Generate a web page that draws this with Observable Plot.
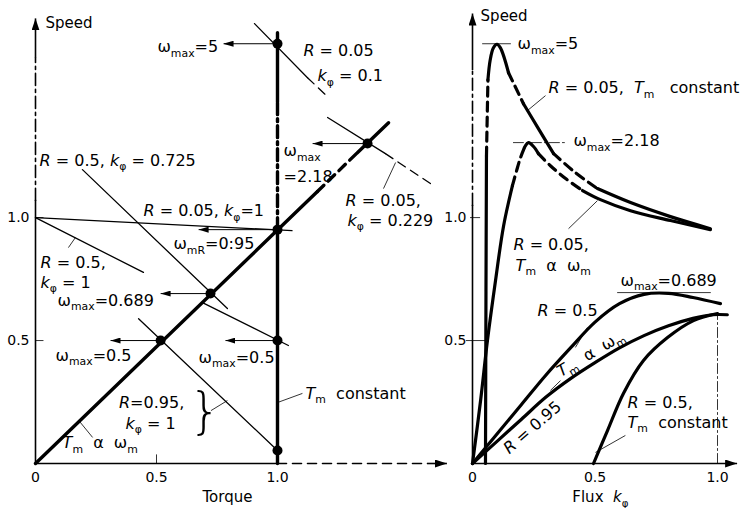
<!DOCTYPE html>
<html><head><meta charset="utf-8">
<script src="https://cdn.jsdelivr.net/npm/d3@7"></script>
<script src="https://cdn.jsdelivr.net/npm/@observablehq/plot@0.6"></script>
<style>
body{margin:0;background:#fff;}
#wrap{position:relative;width:748px;height:508px;overflow:hidden;}
#wrap svg{position:absolute;top:0;background:transparent;}
#wrap text{white-space:pre;}
</style></head><body><div id="wrap"></div>
<script>
// ---------------- DATA ----------------
const torqueTickValues = [0, 0.5, 1.0];
const fluxTickValues = [0, 0.5, 1.0];
const speedTickValues = [0.5, 1.0];

// Left panel (torque, speed); each curve is a list of pieces
const leftSpeedAxis = [[[0,0],[0,1.07]], [[0,1.07],[0,1.65]]];
const leftSpeedArrow = [[0,1.65],[0,1.81]];
const leftTorqueAxis = [[[0,0],[1,0]], [[1,0],[1.62,0]]];
const leftTorqueArrow = [[1.62,0],[1.70,0]];
const tmConstant = [[[1,0],[1,0.951]], [[1,0.951],[1,1.47]], [[1,1.47],[1,1.752]]];
const tmPropOmega = [[[0,0],[1.165,1.106]], [[1.165,1.106],[1.33,1.264]], [[1.33,1.264],[1.459,1.386]]];
const lineR005k01 = [[[0.905,1.789],[1.124,1.569]], [[1.124,1.569],[1.211,1.488]]];
const lineR005k0229 = [[[1.207,1.407],[1.446,1.26]], [[1.446,1.26],[1.645,1.13]]];
const lineR005k1 = [[[0,1],[1.06,0.947]]];
const lineR05k1 = [[[0,1],[0.446,0.777]], [[0.69,0.654],[1.045,0.48]]];
const lineR05k0725 = [[[0.194,1.195],[0.793,0.63]]];
const lineR095k1 = [[[0.426,0.589],[1.0,0.053]]];
const operatingPoints = [[1.0,1.707],[1.372,1.301],[1.0,0.951],[0.723,0.691],[0.517,0.5],[1.0,0.5],[1.0,0.053]];
const omegaArrowTips = [0.777, 1.145, 0.674, 0.517, 0.31, 0.785];
const leftLeaders = [
  [[1.0,0.248],[1.103,0.285]],
  [[0.725,0.215],[0.793,0.256]],
  [[0.182,0.171],[0.236,0.106]],
  [[0.136,0.878],[0.165,0.919]],
  [[1.488,1.224],[1.438,1.118]]
];
const leftLabels = [
  [1.107,1.679,"$R$ = 0.05"],
  [1.165,1.577,"$k$_{φ} = 0.1"],
  [0.504,1.695,"ω_{max}=5"],
  [1.025,1.27,"ω_{max}"],
  [1.025,1.165,"=2.18"],
  [1.281,1.069,"$R$ = 0.05,"],
  [1.289,0.988,"$k$_{φ} = 0.229"],
  [0.017,1.232,"$R$ = 0.5, $k$_{φ} = 0.725"],
  [0.446,1.028,"$R$ = 0.05, $k$_{φ}=1"],
  [0.57,0.894,"ω_{mR}=0:95"],
  [0.021,0.817,"$R$ = 0.5,"],
  [0.021,0.736,"$k$_{φ} = 1"],
  [0.091,0.663,"ω_{max}=0.689"],
  [0.083,0.439,"ω_{max}=0.5"],
  [0.674,0.431,"ω_{max}=0.5"],
  [1.116,0.285,"$T$_{m}  constant"],
  [0.345,0.248,"$R$=0.95,"],
  [0.372,0.163,"$k$_{φ} = 1"],
  [0.112,0.085,"$T$_{m}  α  ω_{m}"]
];
const leftBrace = [[0.70,0.211,"}"]];
const leftTitles = [[0.041,1.789,"Speed"],[0.793,-0.138,"Torque"]];

// Right panel (flux, speed)
const rightSpeedAxis = [[[0,0],[0,1.05]], [[0,1.05],[0,1.6]]];
const rightSpeedArrow = [[0,1.6],[0,1.83]];
const rightFluxArrow = [[0,0],[1.08,0]];
const r005TmConst = [
  [[0.053,0],[0.055,0.7],[0.057,1.25]],
  [[0.057,1.25],[0.063,1.56]],
  [[0.063,1.56],[0.072,1.64],[0.085,1.69],[0.1,1.705],[0.114,1.69],[0.147,1.589]],
  [[0.147,1.589],[0.208,1.463]],
  [[0.208,1.463],[0.269,1.362],[0.331,1.26]],
  [[0.331,1.26],[0.42,1.183],[0.51,1.118]],
  [[0.51,1.118],[0.645,1.061],[0.808,1.004],[0.971,0.955]]
];
const r005TmProp = [
  [[0,0],[0.033,0.256],[0.061,0.5],[0.094,0.744],[0.127,0.967],[0.163,1.13]],
  [[0.163,1.13],[0.18,1.191],[0.196,1.244],[0.212,1.285]],
  [[0.212,1.285],[0.229,1.305],[0.249,1.289],[0.269,1.26]],
  [[0.269,1.26],[0.318,1.211],[0.38,1.159],[0.449,1.11]],
  [[0.449,1.11],[0.522,1.073],[0.645,1.028],[0.808,0.988],[0.971,0.951]]
];
const r05TmProp = [[[0,0],[0.1,0.12],[0.2,0.24],[0.3,0.36],[0.4,0.47],[0.5,0.575],[0.6,0.65],[0.7,0.688],[0.8,0.692],[0.9,0.675],[1.012,0.65]]];
const r095TmProp = [[[0,0],[0.1,0.09],[0.2,0.18],[0.3,0.27],[0.4,0.345],[0.5,0.41],[0.6,0.47],[0.7,0.52],[0.8,0.56],[0.9,0.59],[0.98,0.605],[1.04,0.605]]];
const r05TmConst = [[[0.494,0],[0.551,0.134],[0.616,0.285],[0.698,0.419],[0.796,0.512],[0.902,0.581],[1.0,0.61]]];
const fluxOneDrop = [[[1.0,0],[1.0,0.61]]];
const omegaMaxMarks = [[[0.041,1.707],[0.155,1.707]], [[0.167,1.305],[0.38,1.305]], [[0.592,0.695],[0.971,0.695]]];
const rightLeaders = [
  [[0.298,1.496],[0.224,1.435]],
  [[0.510,1.069],[0.392,0.955]],
  [[0.420,0.472],[0.469,0.553]],
  [[0.318,0.297],[0.359,0.337]],
  [[0.624,0.114],[0.502,0.045]]
];
const rightLabels = [
  [0.184,1.707,"ω_{max}=5"],
  [0.31,1.528,"$R$ = 0.05,  $T$_{m}   constant"],
  [0.412,1.313,"ω_{max}=2.18"],
  [0.167,0.89,"$R$ = 0.05,"],
  [0.176,0.805,"$T$_{m}  α  ω_{m}"],
  [0.604,0.744,"ω_{max}=0.689"],
  [0.265,0.622,"$R$ = 0.5"],
  [0.633,0.248,"$R$ = 0.5,"],
  [0.633,0.167,"$T$_{m}  constant"]
];
const rightRotated = [[0.482,0.447,-31,"$T$_{m}  α  ω_{m}"],[0.245,0.146,-41,"$R$ = 0.95"]];
const rightTitles = [[0.033,1.821,"Speed"],[0.522,-0.138,"Flux  $k$_{φ}"]];

// ---------------- RENDER ----------------
const FONT = "DejaVu Sans";
const DASH = {solid: undefined, dash: "9,6", dashdot: "12,4,3,4", thin: "10,3,2,3"};
const X = d => d[0], Y = d => d[1];
function pieces(list, pattern, width, curve = "linear") {
  return list.map((p, i) => Plot.line(p, {x: X, y: Y, stroke: "black", strokeWidth: width,
    strokeDasharray: DASH[pattern[i % pattern.length]], curve}));
}
function links(list, opts) {
  return Plot.link(list, {x1: d => d[0][0], y1: d => d[0][1], x2: d => d[1][0], y2: d => d[1][1], ...opts});
}
function labels(list, opts) {
  return Plot.text(list, {x: X, y: Y, text: d => d[2], textAnchor: "start", fontSize: 16, fill: "black", ...opts});
}
const fmt = d => d === 0 ? "0" : d.toFixed(1);

function richify(svg) {
  const ns = "http://www.w3.org/2000/svg";
  svg.querySelectorAll("text").forEach(t => {
    const s = t.textContent;
    if (!/[_$]/.test(s)) return;
    const g = t.closest("[font-size]");
    const fs = g ? parseFloat(g.getAttribute("font-size")) : 16;
    t.textContent = "";
    const re = /\$([^$]*)\$|_\{([^}]*)\}|([^$_]+)/g;
    let m, shifted = false;
    while ((m = re.exec(s))) {
      const ts = document.createElementNS(ns, "tspan");
      if (m[2] !== undefined) {
        ts.textContent = m[2];
        ts.setAttribute("font-size", fs * 0.68);
        if (!shifted) { ts.setAttribute("dy", fs * 0.3); shifted = true; }
      } else {
        ts.textContent = m[1] !== undefined ? m[1] : m[3];
        if (m[1] !== undefined) ts.setAttribute("font-style", "italic");
        if (shifted) { ts.setAttribute("dy", -fs * 0.3); shifted = false; }
      }
      t.appendChild(ts);
    }
  });
}
function arrowheads(svg, key, id, len, hw) {
  const ns = "http://www.w3.org/2000/svg";
  let defs = svg.querySelector("defs");
  if (!defs) { defs = document.createElementNS(ns, "defs"); svg.insertBefore(defs, svg.firstChild); }
  const mk = document.createElementNS(ns, "marker");
  mk.setAttribute("id", id);
  mk.setAttribute("viewBox", `0 0 ${len} ${2*hw}`);
  mk.setAttribute("refX", len); mk.setAttribute("refY", hw);
  mk.setAttribute("markerWidth", len); mk.setAttribute("markerHeight", 2*hw);
  mk.setAttribute("orient", "auto"); mk.setAttribute("markerUnits", "userSpaceOnUse");
  const p = document.createElementNS(ns, "path");
  p.setAttribute("d", `M0,0L${len},${hw}L0,${2*hw}Z`); p.setAttribute("fill", "black");
  mk.appendChild(p); defs.appendChild(mk);
  svg.querySelectorAll(`g[stroke="${key}"] path`).forEach(e => e.setAttribute("marker-end", `url(#${id})`));
}

const common = {height: 508, marginTop: 13, marginBottom: 45,
  style: {fontFamily: FONT, background: "transparent", overflow: "visible", color: "black"}};
const tickStyle = {tickSize: 0, tickFormat: fmt, fontSize: 14, label: null, fill: "black"};

const left = Plot.plot({
  ...common, width: 460, marginLeft: 35, marginRight: 1.5,
  x: {domain: [0, 1.75], axis: null}, y: {domain: [0, 1.83], axis: null},
  marks: [
    ...pieces(leftSpeedAxis, ["solid", "dashdot"], 1.6),
    ...pieces(leftTorqueAxis, ["solid", "dash"], 1.6),
    links([leftSpeedArrow, leftTorqueArrow], {stroke: "#020202", strokeWidth: 1.6}),
    Plot.ruleX([0.5], {y1: 0, y2: 0.035, stroke: "black", strokeWidth: 0.8}),
    Plot.ruleY(speedTickValues, {x1: 0, x2: 0.035, stroke: "black", strokeWidth: 0.8}),
    Plot.axisX({ticks: torqueTickValues, tickPadding: 9, ...tickStyle}),
    Plot.axisY({ticks: speedTickValues, tickPadding: 6, ...tickStyle}),
    ...pieces(tmConstant, ["solid", "dashdot", "solid"], 3.4),
    ...pieces(tmPropOmega, ["solid", "dash", "solid"], 3.4),
    ...pieces(lineR005k01, ["solid", "dash"], 1.3),
    ...pieces(lineR005k0229, ["solid", "dash"], 1.3),
    ...pieces(lineR005k1, ["solid"], 1.3),
    ...pieces(lineR05k1, ["solid"], 1.3),
    ...pieces(lineR05k0725, ["solid"], 1.3),
    ...pieces(lineR095k1, ["solid"], 1.3),
    links(omegaArrowTips.map((t, i) => [operatingPoints[i], [t, operatingPoints[i][1]]]), {stroke: "#010101", strokeWidth: 1}),
    links(leftLeaders, {stroke: "black", strokeWidth: 0.8}),
    Plot.dot(operatingPoints, {x: X, y: Y, r: 5, fill: "black"}),
    labels(leftLabels),
    labels(leftBrace, {textAnchor: "middle", fontSize: 50, fontWeight: 200}),
    labels(leftTitles.slice(0, 1), {fontSize: 15}),
    labels(leftTitles.slice(1), {textAnchor: "middle", fontSize: 15}),
  ]
});
const right = Plot.plot({
  ...common, width: 308, marginLeft: 32, marginRight: 6.5,
  x: {domain: [0, 1.1], axis: null}, y: {domain: [0, 1.83], axis: null},
  marks: [
    ...pieces(rightSpeedAxis, ["solid", "dashdot"], 1.6),
    links([rightSpeedArrow, rightFluxArrow], {stroke: "#020202", strokeWidth: 1.6}),
    Plot.ruleY([1.0], {x1: -0.008, x2: 0.033, stroke: "black", strokeWidth: 0.8}),
    Plot.ruleY([0.5], {x1: -0.025, x2: 0.061, stroke: "black", strokeWidth: 0.8}),
    Plot.axisX({ticks: fluxTickValues, tickPadding: 9, ...tickStyle}),
    Plot.axisY({ticks: speedTickValues, tickPadding: 6, ...tickStyle}),
    ...pieces(fluxOneDrop, ["thin"], 0.8),
    ...pieces(omegaMaxMarks, ["solid", "thin", "solid"], 0.8),
    ...pieces(r005TmConst, ["solid", "dash"], 3.2, "catmull-rom"),
    ...pieces(r005TmProp, ["solid", "dash"], 3.2, "catmull-rom"),
    ...pieces(r05TmProp, ["solid"], 3.2, "catmull-rom"),
    ...pieces(r095TmProp, ["solid"], 3.2, "catmull-rom"),
    ...pieces(r05TmConst, ["solid"], 3.2, "catmull-rom"),
    links(rightLeaders, {stroke: "black", strokeWidth: 0.8}),
    labels(rightLabels),
    Plot.text(rightRotated, {x: X, y: Y, rotate: d => d[2], text: d => d[3], fontSize: 16, textAnchor: "middle", fill: "black"}),
    labels(rightTitles.slice(0, 1), {fontSize: 15}),
    labels(rightTitles.slice(1), {fontSize: 15, textAnchor: "middle"}),
  ]
});
[left, right].forEach((svg, i) => { richify(svg); arrowheads(svg, "#010101", "ah" + i, 10, 3); arrowheads(svg, "#020202", "ax" + i, 12, 4); });
left.style.left = "0px"; right.style.left = "440px";
const wrap = document.getElementById("wrap");
wrap.appendChild(left); wrap.appendChild(right);
</script></body></html>
